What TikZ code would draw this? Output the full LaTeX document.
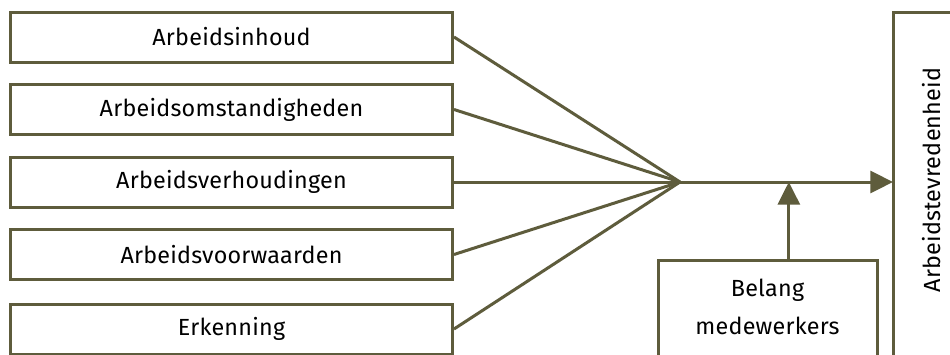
\documentclass[tikz,border=0pt]{standalone}
\usepackage{fontspec}
\setmainfont{Fira Sans}[LetterSpace=1]
\usetikzlibrary{arrows.meta}
\definecolor{olivedrab}{RGB}{94,92,60}
\begin{document}
\begin{tikzpicture}[x=0.75pt,y=-0.75pt,
  every node/.style={font=\fontsize{17.5}{28.5}\selectfont, text=black},
  factor/.style={draw=olivedrab, line width=2.25pt, minimum width=331.5pt,
    minimum height=37.5pt, inner sep=0pt},
  frame/.style={draw=olivedrab, line width=2.25pt, inner sep=0pt, outer sep=0pt},
  link/.style={draw=olivedrab, line width=2.25pt},
  tip/.style={-{Triangle[length=17pt,width=16.5pt]}, fill=olivedrab}
]
\useasboundingbox (0,0) rectangle (950,354);
\fill[white] (0,0) rectangle (950,354);
\clip (0,0) rectangle (950,354);

% the five factors
\node[factor] (f1) at (231.5,37)    {Arbeidsinhoud};
\node[factor] (f2) at (231.5,109.5) {Arbeidsomstandigheden};
\node[factor] (f3) at (231.5,182)   {Arbeidsverhoudingen};
\node[factor] (f4) at (231.5,254.5) {Arbeidsvoorwaarden};
\node[factor] (f5) at (231.5,329)   {Erkenning};

\coordinate (join) at (680,182);

% outcome box on the right
\node[frame, minimum width=75pt, minimum height=306pt] (sat) at (943,216) {};
\node[rotate=90] (satlabel) at (932,180) {Arbeidstevredenheid};

% moderating box below
\node[frame, minimum width=164.25pt, minimum height=105pt] (belang) at (767.5,330) {};
\node[align=center] (belanglabel) at (767.5,307) {Belang\\medewerkers};

% connectors
\foreach \f in {f1,f2,f3,f4,f5}
  \draw[link] (\f.east) -- (join);
\draw[link,tip] (join) -- (sat.west |- join);
\draw[link,tip] ([xshift=16pt]belang.north) -- ([xshift=16pt]belang.north |- join);
\end{tikzpicture}
\end{document}
